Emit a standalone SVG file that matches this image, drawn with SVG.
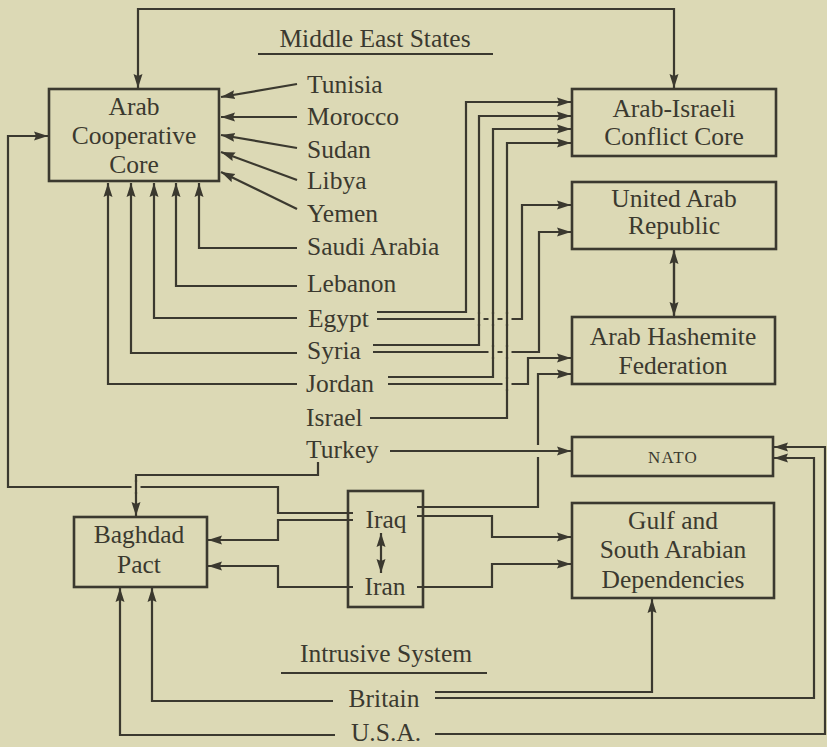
<svg xmlns="http://www.w3.org/2000/svg" width="827" height="747" viewBox="0 0 827 747" font-family="Liberation Serif, Times New Roman, Times, serif">
<style>
text{font-size:25.5px;fill:#3b392f}
.c{text-anchor:middle}
.box{fill:none;stroke:#3b392f;stroke-width:2.6}
.ln{fill:none;stroke:#3b392f;stroke-width:2.2}
.a{marker-end:url(#ah)}
.aa{marker-start:url(#ah);marker-end:url(#ah)}
.halo{fill:none;stroke:#dcd9b5;stroke-width:9}
.nato{font-size:17px;letter-spacing:1.2px}
</style>
<defs>
<marker id="ah" markerUnits="userSpaceOnUse" markerWidth="15" markerHeight="10" refX="14" refY="5" orient="auto-start-reverse">
<path d="M0,0.5 L14,5 L0,9.5 L2,5 z" fill="#3b392f"/>
</marker>
</defs>
<rect width="827" height="747" fill="#dcd9b5"/>

<g id="titles" font-family="Liberation Serif, serif">
<text class="c" x="375" y="47">Middle East States</text>
<path class="ln" d="M258,54 H493"/>
<text class="c" x="386" y="662">Intrusive System</text>
<path class="ln" d="M281,673 H487"/>
</g>

<g id="labels" font-family="Liberation Serif, serif">
<text x="307" y="93">Tunisia</text>
<text x="307" y="125">Morocco</text>
<text x="307" y="158">Sudan</text>
<text x="307" y="189">Libya</text>
<text x="307" y="222">Yemen</text>
<text x="307" y="255">Saudi Arabia</text>
<text x="307" y="292">Lebanon</text>
<text x="308" y="327">Egypt</text>
<text x="307" y="359">Syria</text>
<text x="306" y="392">Jordan</text>
<text x="306" y="426">Israel</text>
<text x="306" y="458">Turkey</text>
<text class="c" x="384" y="707">Britain</text>
<text class="c" x="386" y="741">U.S.A.</text>
</g>

<g id="arab-cooperative-core">
<rect class="box" x="49" y="89" width="170" height="92"/>
<text class="c" x="134" y="115">Arab</text>
<text class="c" x="134" y="144">Cooperative</text>
<text class="c" x="134" y="173">Core</text>
</g>
<g id="arab-israeli-conflict-core">
<rect class="box" x="572" y="89" width="204" height="67"/>
<text class="c" x="674" y="117">Arab-Israeli</text>
<text class="c" x="674" y="145">Conflict Core</text>
</g>
<g id="united-arab-republic">
<rect class="box" x="572" y="182" width="204" height="67"/>
<text class="c" x="674" y="207">United Arab</text>
<text class="c" x="674" y="234">Republic</text>
</g>
<g id="arab-hashemite-federation">
<rect class="box" x="572" y="317" width="203" height="67"/>
<text class="c" x="673" y="345">Arab Hashemite</text>
<text class="c" x="673" y="374">Federation</text>
</g>
<g id="nato">
<rect class="box" x="572" y="437" width="201" height="39"/>
<text class="c nato" x="673" y="463">NATO</text>
</g>
<g id="gulf">
<rect class="box" x="572" y="503" width="202" height="95"/>
<text class="c" x="673" y="529">Gulf and</text>
<text class="c" x="673" y="558">South Arabian</text>
<text class="c" x="673" y="588">Dependencies</text>
</g>
<g id="baghdad-pact">
<rect class="box" x="74" y="517" width="133" height="70"/>
<text class="c" x="139" y="543">Baghdad</text>
<text class="c" x="139" y="573">Pact</text>
</g>
<g id="iraq-iran">
<rect class="box" x="348" y="491" width="75" height="116"/>
<text class="c" x="386" y="528">Iraq</text>
<text class="c" x="385" y="595">Iran</text>
</g>

<g id="connectors">
<path class="ln aa" d="M138,88 V9 H674 V88"/>
<path class="ln a" d="M297,84 L221,97"/>
<path class="ln a" d="M297,117 L221,117"/>
<path class="ln a" d="M297,148 L221,135"/>
<path class="ln a" d="M297,180 L221,152"/>
<path class="ln a" d="M297,209 L221,172"/>
<path class="ln a" d="M297,248 H199 V183"/>
<path class="ln a" d="M297,286 H176 V183"/>
<path class="ln a" d="M297,318 H154 V183"/>
<path class="ln a" d="M297,353 H131 V183"/>
<path class="ln a" d="M297,384 H108 V183"/>

<path class="ln a" d="M377,312 H466 V102 H571"/>
<path class="ln a" d="M373,345 H479 V116 H571"/>
<path class="ln a" d="M388,377 H493 V129 H571"/>
<path class="ln a" d="M370,418 H507 V143 H571"/>
<path class="ln a" d="M377,319 H522 V205 H571"/>
<path class="ln a" d="M373,352 H539 V232 H571"/>
<path class="ln a" d="M388,384 H528 V358 H571"/>
<path class="ln a" d="M417,507 H538 V374 H571"/>

<path class="ln a" d="M674,251 V316"/>
<path class="ln a" d="M674,315 V250"/>

<path class="ln a" d="M353,513 H278 V487 H8 V136 H48"/>
<path class="ln a" d="M318,462 V475 H136 V516"/>
<path class="ln a" d="M353,520 H278 V540 H208"/>
<path class="ln a" d="M353,587 H278 V566 H208"/>
<path class="ln a" d="M417,516 H492 V537 H571"/>
<path class="ln a" d="M417,587 H492 V564 H571"/>
<path class="ln aa" d="M381,533 V573"/>

<path class="halo" d="M538,445 V457"/>
<path class="ln a" d="M390,451 H571"/>

<path class="ln a" d="M333,701 H152 V588"/>
<path class="ln a" d="M335,735 H120 V588"/>
<path class="ln a" d="M435,692 H652 V599"/>
<path class="ln a" d="M435,698 H814 V458 H774"/>
<path class="ln a" d="M435,734 H825 V447 H774"/>

<path class="halo" d="M479,314 V324 M493,314 V324 M507,314 V324 M493,347 V357 M507,347 V357 M507,379 V389 M136,482 V492"/>
<path class="ln" d="M479,312 V326 M493,312 V326 M507,312 V326 M493,345 V359 M507,345 V359 M507,377 V391 M136,480 V494"/>
</g>
</svg>
